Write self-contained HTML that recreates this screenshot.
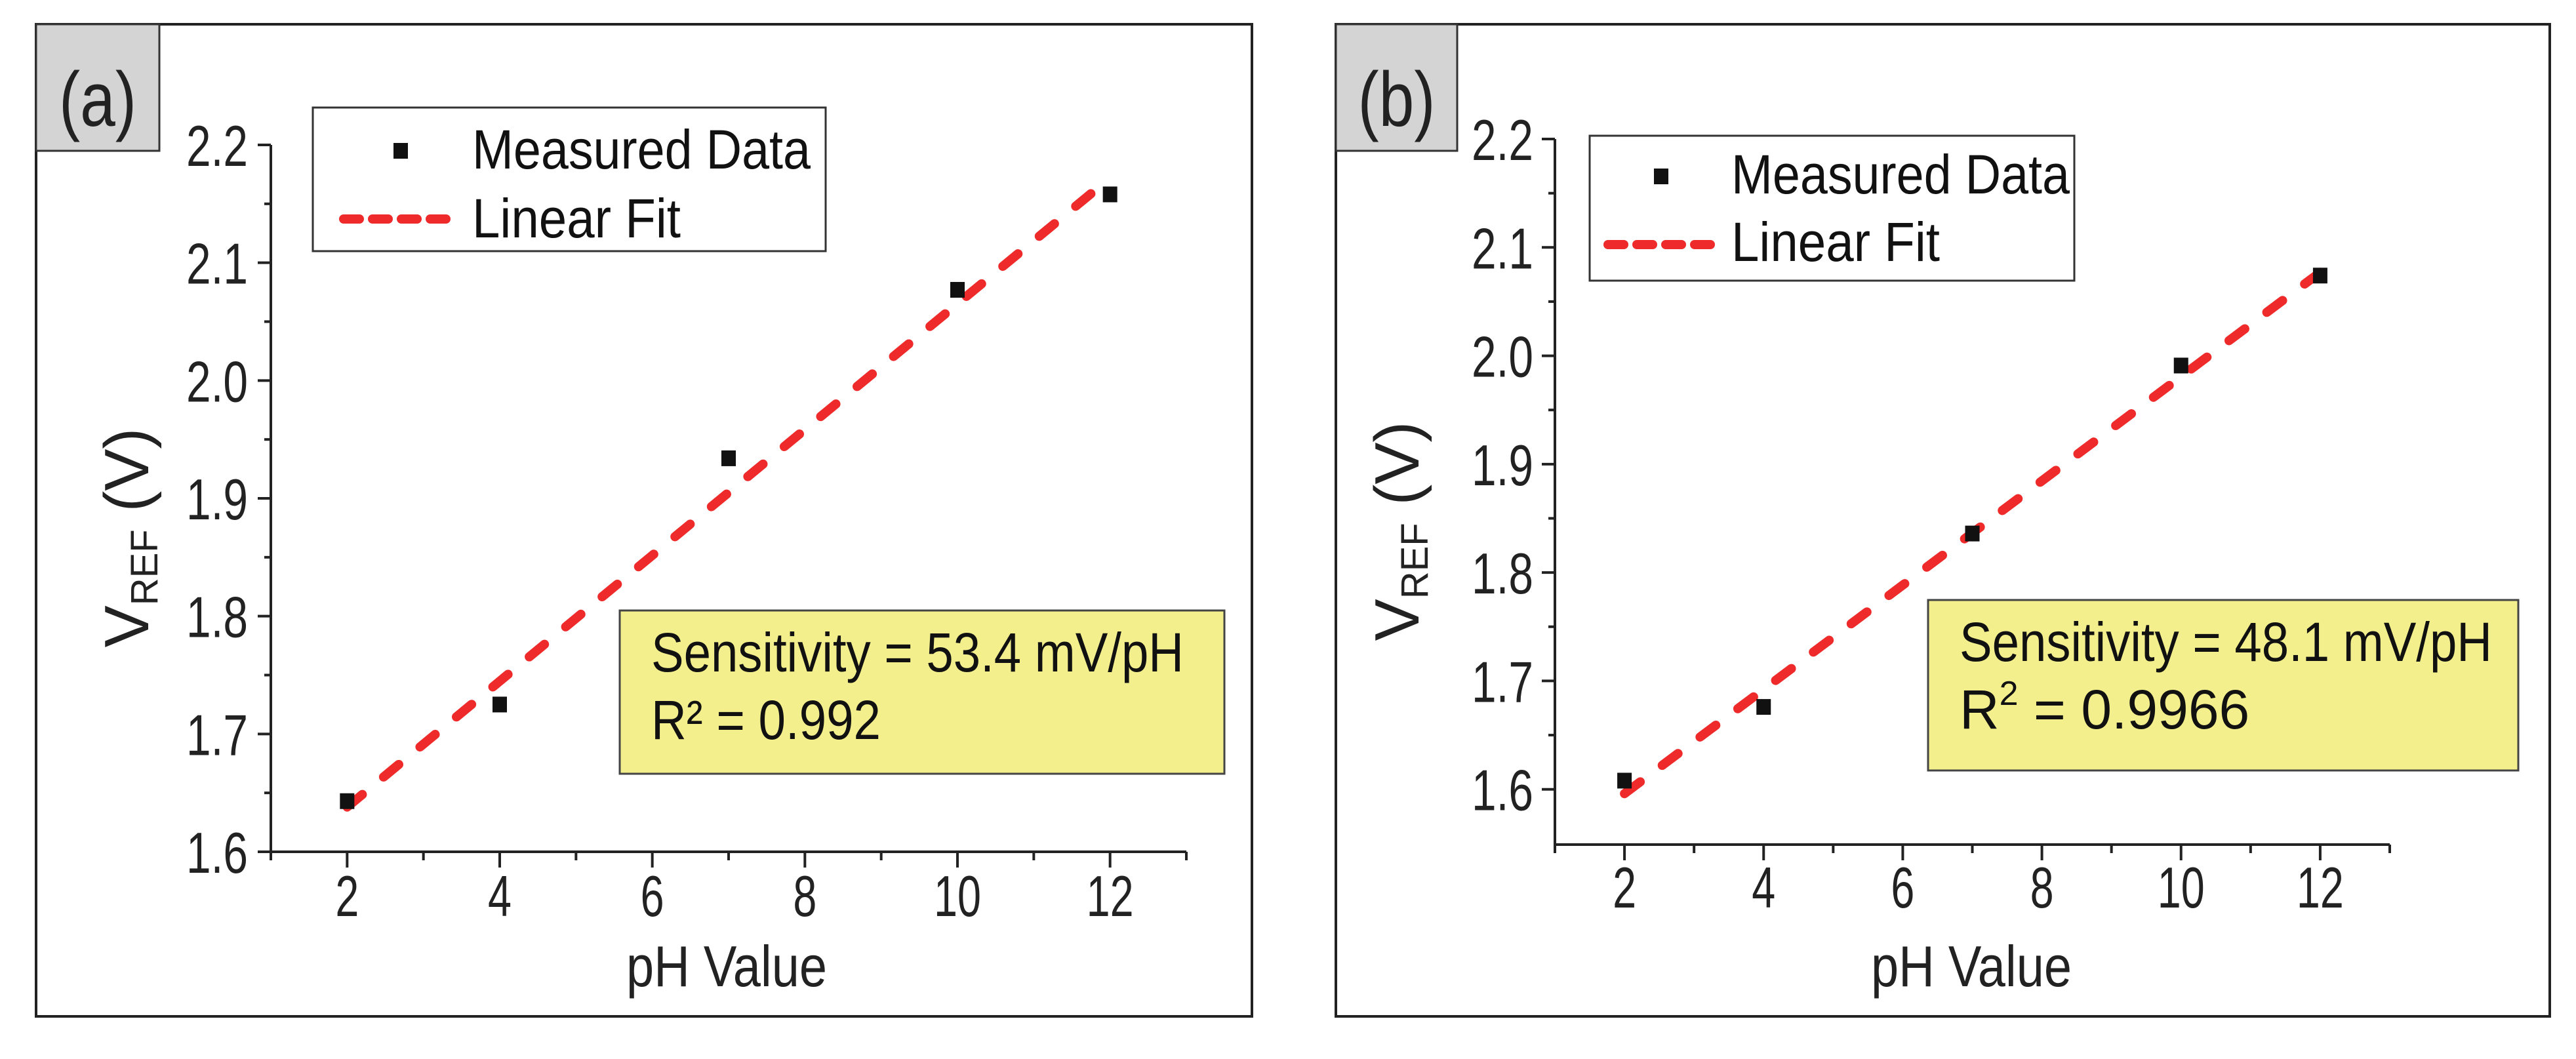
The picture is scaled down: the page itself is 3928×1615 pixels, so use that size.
<!DOCTYPE html>
<html><head><meta charset="utf-8"><style>
html,body{margin:0;padding:0;background:#fff;}
svg{display:block;font-family:"Liberation Sans",sans-serif;}
</style></head><body>
<svg id="fig" width="3928" height="1615" viewBox="0 0 3928 1615" xmlns="http://www.w3.org/2000/svg"></svg>
<script>
const xTicks=[2,4,6,8,10,12];
const yTicks=[1.6,1.7,1.8,1.9,2.0,2.1,2.2];
const yTickLabels=["1.6","1.7","1.8","1.9","2.0","2.1","2.2"];
const phA=[2,4,7,10,12];
const vrefA=[1.643,1.725,1.934,2.077,2.158];
const fitA=[1.638,2.172];
const phB=[2,4,7,10,12];
const vrefB=[1.608,1.676,1.836,1.991,2.074];
const fitB=[1.596,2.077];
const fitX=[2,12];
const NS="http://www.w3.org/2000/svg";
const svg=document.getElementById('fig');
function mk(tag,attrs,parent){const e=document.createElementNS(NS,tag);for(const k in attrs)e.setAttribute(k,attrs[k]);(parent||svg).appendChild(e);return e;}
function panel(p){
  const g=mk('g',{});
  
  
  const fr=mk('rect',{x:p.fx,y:37,width:p.fw,height:1513,fill:'none',stroke:'#222','stroke-width':4},g);
  
  
  const lb=mk('rect',{x:p.fx,y:37,width:p.lw,height:193,fill:'#d4d4d4',stroke:'#333','stroke-width':3},g);
  
  
  const lt=mk('text',{x:p.fx+p.lw/2,y:192,'font-size':118,'text-anchor':'middle',fill:'#222',textLength:118,lengthAdjust:'spacingAndGlyphs'},g);
  lt.textContent='('+p.id+')';
  
  
  const X=v=>p.x0+(v-1)/(13-1)*(p.x1-p.x0);
  const Y=v=>p.yTop+(2.2-v)/(2.2-p.ymin)*(p.yBot-p.yTop);
  const ax=mk('path',{d:`M${p.x0} ${Y(2.2)} V${p.yBot} H${p.x1}`,fill:'none',stroke:'#222','stroke-width':4},g);
  
  
  for(let v=1;v<=13;v++){
    const major=xTicks.includes(v);
    const t=mk('line',{x1:X(v),x2:X(v),y1:p.yBot,y2:p.yBot+(major?24:13),stroke:'#222','stroke-width':4},g);
    
    
  }
  xTicks.forEach(v=>{
    const s=String(v);
    const t=mk('text',{x:X(v),y:p.xlabY,'font-size':88,'text-anchor':'middle',fill:'#222',textLength:s.length*36,lengthAdjust:'spacingAndGlyphs'},g);
    t.textContent=s;
    
    
  });
  for(let i=0;i<13;i++){
    const v=2.2-i*0.05;
    if(v<p.ymin-1e-9)break;
    const major=i%2===0;
    const t=mk('line',{x1:p.x0,x2:p.x0-(major?20:10),y1:Y(v),y2:Y(v),stroke:'#222','stroke-width':4},g);
    
    
  }
  yTicks.forEach((v,i)=>{
    const t=mk('text',{x:p.ylabR,y:Y(v)+32,'font-size':88,'text-anchor':'end',fill:'#222',textLength:94,lengthAdjust:'spacingAndGlyphs'},g);
    t.textContent=yTickLabels[i];
    
    
  });
  const xt=mk('text',{x:p.xtC,y:1504,'font-size':88,'text-anchor':'middle',fill:'#222',textLength:306,lengthAdjust:'spacingAndGlyphs'},g);
  xt.textContent='pH Value';
  
  
  const yt=mk('text',{transform:`translate(${p.ytX},${p.ytC}) rotate(-90)`,'font-size':96,'text-anchor':'middle',fill:'#222'},g);
  yt.innerHTML='V<tspan font-size="58" dy="14">REF</tspan><tspan dy="-14"> (V)</tspan>';
  
  
  const fl=mk('line',{x1:X(fitX[0]),y1:Y(p.fit[0]),x2:X(fitX[1]),y2:Y(p.fit[1]),stroke:'#ee2a2a','stroke-width':14,'stroke-dasharray':'30 42','stroke-linecap':'round'},g);
  
  
  p.xs.forEach((x,i)=>{
    const m=mk('rect',{x:X(x)-11,y:Y(p.ys[i])-12,width:22,height:24,fill:'#111'},g);
    
    
  });
  const lg=mk('g',{},g);
  
  
  mk('rect',{x:p.lgx,y:p.lgy,width:p.lgw,height:p.lgh,fill:'#fff',stroke:'#333','stroke-width':3},lg);
  const lm=mk('rect',{x:p.lmx-11,y:p.lmy-12,width:22,height:24,fill:'#111'},lg);
  
  
  const ld=mk('line',{x1:p.ldx1,x2:p.ldx2,y1:p.ldy,y2:p.ldy,stroke:'#ee2a2a','stroke-width':14,'stroke-dasharray':'24 20','stroke-linecap':'round'},lg);
  
  
  const l1=mk('text',{x:p.ltx,y:p.lt1,'font-size':84,fill:'#111',textLength:516,lengthAdjust:'spacingAndGlyphs'},lg);
  l1.textContent='Measured Data';
  
  
  const l2=mk('text',{x:p.ltx,y:p.lt2,'font-size':84,fill:'#111',textLength:318,lengthAdjust:'spacingAndGlyphs'},lg);
  l2.textContent='Linear Fit';
  
  
  const an=mk('g',{},g);
  
  
  mk('rect',{x:p.bx,y:p.by,width:p.bw,height:p.bh,fill:'#f3ef8d',stroke:'#444','stroke-width':3},an);
  const s1=mk('text',{x:p.bx+48,y:p.by+93,'font-size':84,fill:'#111',textLength:812,lengthAdjust:'spacingAndGlyphs'},an);
  s1.textContent=p.sens;
  
  
  const s2=mk('text',{x:p.bx+48,y:p.by+196,'font-size':84,fill:'#111'},an);
  s2.innerHTML=p.r2;
  
  
}
panel({id:'a',fx:55,fw:1854,lw:188,x0:413,x1:1809,yTop:221,yBot:1299,ymin:1.6,xlabY:1397,ylabR:378,xtC:1108,ytX:226,ytC:820,
  fit:fitA,xs:phA,ys:vrefA,lgx:477,lgy:164,lgw:782,lgh:219,lmx:611,lmy:230,ldx1:524,ldx2:686,ldy:334,ltx:720,lt1:257,lt2:362,
  bx:945,by:931,bw:922,bh:249,sens:'Sensitivity = 53.4 mV/pH',r2:'<tspan textLength="350" lengthAdjust="spacingAndGlyphs">R² = 0.992</tspan>'});
panel({id:'b',fx:2037,fw:1851,lw:185,x0:2371,x1:3644,yTop:212,yBot:1288,ymin:1.549,xlabY:1384,ylabR:2338,xtC:3006,ytX:2163,ytC:810,
  fit:fitB,xs:phB,ys:vrefB,lgx:2424,lgy:207,lgw:739,lgh:221,lmx:2533,lmy:269,ldx1:2452,ldx2:2609,ldy:373,ltx:2640,lt1:295,lt2:398,
  bx:2940,by:915,bw:900,bh:260,sens:'Sensitivity = 48.1 mV/pH',r2:'R<tspan font-size="52" dy="-36">2</tspan><tspan dy="36"> = 0.9966</tspan>'});
</script>
</body></html>
